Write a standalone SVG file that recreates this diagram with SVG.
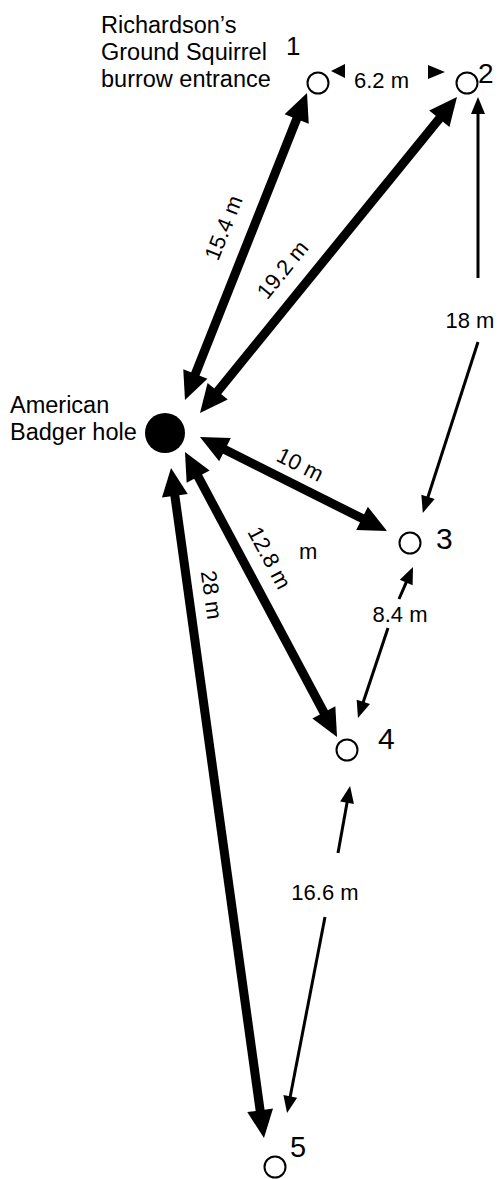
<svg xmlns="http://www.w3.org/2000/svg" width="504" height="1179" viewBox="0 0 504 1179">
<style>
text{font-family:"Liberation Sans",Arial,sans-serif;fill:#000}
.lbl{font-size:22px}
.name{font-size:23.5px}
.num{font-size:28px}
.thick{stroke:#000;stroke-width:9;fill:none;marker-start:url(#hb);marker-end:url(#hb)}
.thin{stroke:#000;stroke-width:3;fill:none}
.burrow{fill:#fff;stroke:#000;stroke-width:2}
</style>
<defs>
<marker id="hb" markerUnits="userSpaceOnUse" markerWidth="30" markerHeight="30" refX="2" refY="0" orient="auto-start-reverse" overflow="visible">
<path d="M0,-13 L28,0 L0,13 z" fill="#000"/>
</marker>
<marker id="ht" markerUnits="userSpaceOnUse" markerWidth="20" markerHeight="20" refX="2" refY="0" orient="auto" overflow="visible">
<path d="M0,-7 L17,0 L0,7 z" fill="#000"/>
</marker>
</defs>
<rect width="504" height="1179" fill="#fff"/>
<g id="connectors">
<line class="thick" x1="194.6" y1="375.8" x2="297.4" y2="117.2"/>
<line class="thick" x1="216.4" y1="392.8" x2="440.6" y2="117.2"/>
<line class="thick" x1="223.2" y1="448.7" x2="363.8" y2="519.3"/>
<line class="thick" x1="197.2" y1="474.9" x2="324.8" y2="714.1"/>
<line class="thick" x1="174.6" y1="493.8" x2="260.4" y2="1112.3"/>
<polygon points="331,71 345,64 345,78" fill="#000"/>
<polygon points="428,65 428,79 445,72" fill="#000"/>
<line class="thin" x1="478" y1="278" x2="478" y2="112" marker-end="url(#ht)"/>
<line class="thin" x1="478" y1="342" x2="427.4" y2="498.7" marker-end="url(#ht)"/>
<line class="thin" x1="399" y1="599" x2="407.0" y2="580.7" marker-end="url(#ht)"/>
<line class="thin" x1="388" y1="628" x2="362.7" y2="703.8" marker-end="url(#ht)"/>
<line class="thin" x1="338" y1="853" x2="347.4" y2="800.8" marker-end="url(#ht)"/>
<line class="thin" x1="325" y1="917" x2="289.9" y2="1098.3" marker-end="url(#ht)"/>
<text class="lbl" x="354" y="88">6.2 m</text>
<text class="lbl" text-anchor="middle" transform="translate(224,228) rotate(-68.3)" y="7">15.4 m</text>
<text class="lbl" text-anchor="middle" transform="translate(283,270) rotate(-50.9)" y="7">19.2 m</text>
<text class="lbl" text-anchor="middle" transform="translate(300,465) rotate(26.7)" y="7">10 m</text>
<text class="lbl" text-anchor="middle" transform="translate(269,558) rotate(61.9)" y="7">12.8 m</text>
<text class="lbl" text-anchor="middle" transform="translate(211,595) rotate(82.1)" y="7">28 m</text>
<text class="lbl" x="299" y="559">m</text>
<text class="lbl" text-anchor="middle" x="470" y="328">18 m</text>
<text class="lbl" text-anchor="middle" x="400" y="622">8.4 m</text>
<text class="lbl" text-anchor="middle" x="325" y="900">16.6 m</text>
</g>
<g id="badger">
<circle cx="165" cy="433" r="20" fill="#000"/>
<text class="name" x="10" y="413">American</text>
<text class="name" x="10" y="440">Badger hole</text>
</g>
<g id="burrow1">
<circle class="burrow" cx="318" cy="83" r="10.5"/>
<text class="num" x="286" y="55" style="font-size:26px">1</text>
<text class="name" x="101" y="33">Richardson’s</text>
<text class="name" x="101" y="60">Ground Squirrel</text>
<text class="name" x="101" y="87">burrow entrance</text>
</g>
<g id="burrow2">
<circle class="burrow" cx="467" cy="83" r="10.5"/>
<text class="num" x="478" y="83">2</text>
</g>
<g id="burrow3">
<circle class="burrow" cx="410" cy="543" r="10.5"/>
<text class="num" x="436" y="549" style="font-size:30px">3</text>
</g>
<g id="burrow4">
<circle class="burrow" cx="347" cy="750" r="10.5"/>
<text class="num" x="378" y="749" style="font-size:30px">4</text>
</g>
<g id="burrow5">
<circle class="burrow" cx="275" cy="1167" r="10.5"/>
<text class="num" x="290" y="1157" style="font-size:29px">5</text>
</g>
</svg>
